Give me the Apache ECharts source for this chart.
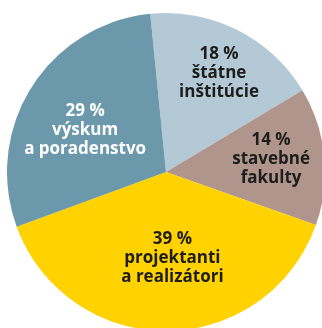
<!DOCTYPE html>
<html>
<head>
<meta charset="utf-8">
<script src="https://cdn.jsdelivr.net/npm/echarts@6/dist/echarts.min.js"></script>
<style>
  html, body { margin: 0; padding: 0; background: #fff; }
  #chart { width: 322px; height: 328px; }
</style>
</head>
<body>
<div id="chart"></div>
<script>
// Shares of respondents by sector (percent), clockwise from the top
const categories = ['štátne\ninštitúcie', 'stavebné\nfakulty', 'projektanti\na realizátori', 'výskum\na poradenstvo'];
const shares = [18, 14, 39, 29];
const sliceColors = ['#b3cad6', '#b0958c', '#ffd200', '#6b98ab'];
const textColors = ['#1d1d1b', '#1d1d1b', '#1d1d1b', '#ffffff'];
const labelOffsets = [[16, -25], [23, -5], [6, 4], [-11, 2]];

const chart = echarts.init(document.getElementById('chart'), null, { renderer: 'canvas' });

chart.setOption({
  animation: false,
  series: [{
    type: 'pie',
    center: [166, 172],
    radius: [0, 159],
    startAngle: 95.7,
    clockwise: true,
    avoidLabelOverlap: false,
    label: {
      show: true,
      position: 'inside',
      fontFamily: 'Open Sans',
      fontWeight: 'bold',
      fontSize: 17,
      lineHeight: 19,
      align: 'center',
      formatter: p => p.value + ' %\n' + p.name
    },
    labelLine: { show: false },
    itemStyle: { borderWidth: 0 },
    emphasis: { disabled: true },
    data: categories.map((name, i) => ({
      name,
      value: shares[i],
      itemStyle: { color: sliceColors[i] },
      label: { color: textColors[i], offset: labelOffsets[i] }
    }))
  }]
});
</script>
</body>
</html>
